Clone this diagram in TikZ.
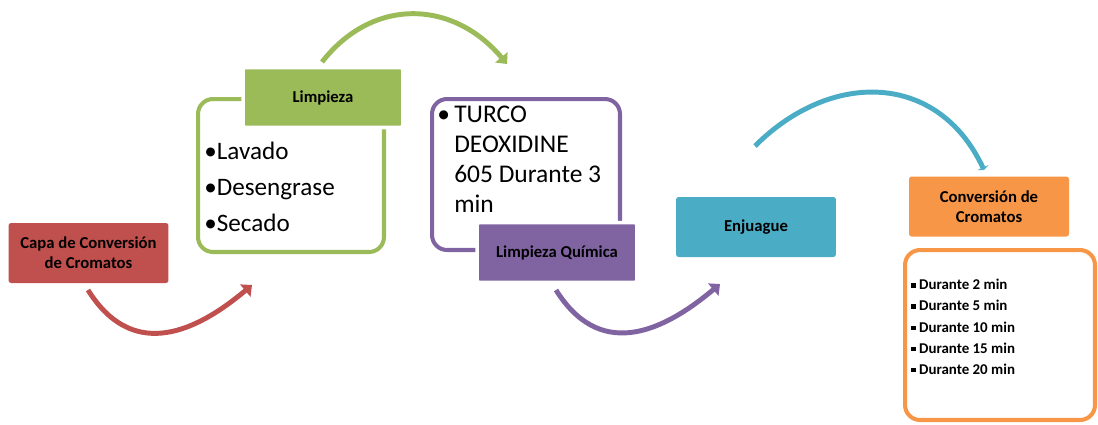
\documentclass[tikz,border=0pt]{standalone}
\usepackage{fontspec}
\setmainfont{Carlito}
\usetikzlibrary{positioning}
\usetikzlibrary{arrows.meta}
\definecolor{rojo}{HTML}{C0504D}
\definecolor{verde}{HTML}{9BBB59}
\definecolor{morado}{HTML}{8064A2}
\definecolor{azul}{HTML}{4BACC6}
\definecolor{naranja}{HTML}{F79646}
\tikzset{
  paso/.style={rounded corners=1.5pt, minimum width=3.2cm, minimum height=1.2cm, align=center, inner sep=2pt, font=\fontsize{9.5}{11.5}\selectfont\bfseries},
  marco/.style={draw, rounded corners=0.3cm, line width=2.3pt, inner sep=0pt},
  flecha/.style={line width=2.8pt, -{Triangle[length=5pt,width=9pt]}},
}

\begin{document}
\begin{tikzpicture}[x=0.02cm,y=-0.02cm]
\useasboundingbox (0,0) rectangle (1098,424);
% marcos
\node[marco, draw=verde, minimum width=3.72cm, minimum height=3.06cm] (mlimp) at (291,175.5) {};
\node[marco, draw=morado, minimum width=3.76cm, minimum height=3.02cm] (mquim) at (526,174.5) {};
\node[marco, draw=naranja, minimum width=3.8cm, minimum height=3.4cm] (mconv) at (1000,335) {};
% pasos
\node[paso, fill=rojo] (capa) at (88.5,253) {Capa de Conversión\\de Cromatos};
\node[paso, fill=verde, draw=white, line width=2pt] (limp) at (323,97.5) {Limpieza};
\node[paso, fill=morado, draw=white, line width=2pt] (quim) at (557,252.5) {Limpieza Química};
\node[paso, fill=azul] (enj) at (756,227) {Enjuague};
\node[paso, fill=naranja] (conv) at (989,206.5) {Conversión de\\Cromatos};
% textos
\node[anchor=north west, align=left, inner sep=0pt, font=\fontsize{14.3}{20.5}\selectfont] (tlimp) at (204,142) {•Lavado\\•Desengrase\\•Secado};
\node[anchor=north west, align=left, inner sep=0pt, font=\fontsize{14.5}{17}\selectfont] (tquim) at (437,106) {•\,TURCO\\\phantom{•\,}DEOXIDINE\\\phantom{•\,}605 Durante 3\\\phantom{•\,}min};
\node[anchor=north west, align=left, inner sep=0pt, font=\fontsize{8.5}{12}\selectfont\bfseries] (tconv) at (911,279) {\rule[1.2pt]{2.5pt}{2.5pt}\ Durante 2 min\\\rule[1.2pt]{2.5pt}{2.5pt}\ Durante 5 min\\\rule[1.2pt]{2.5pt}{2.5pt}\ Durante 10 min\\\rule[1.2pt]{2.5pt}{2.5pt}\ Durante 15 min\\\rule[1.2pt]{2.5pt}{2.5pt}\ Durante 20 min};
% flechas
\coordinate (r1) at (88,290);
\coordinate (r2) at (252,285);
\coordinate (v1) at (322,62);
\coordinate (v2) at (507,64);
\coordinate (m1) at (556,290);
\coordinate (m2) at (720,284);
\coordinate (a1) at (755,146);
\coordinate (a2) at (984,170);
\draw[flecha, rojo] (r1) to[out=-58, in=-140, looseness=1.25] (r2);
\draw[flecha, verde] (v1) to[out=52, in=130, looseness=1.15] (v2);
\draw[flecha, morado] (m1) to[out=-58, in=-140, looseness=1.25] (m2);
\draw[line width=2.8pt, azul, -{Triangle[length=1.5pt,width=7pt]}] (a1) to[out=45, in=115, looseness=1.2] (a2);
\end{tikzpicture}
\end{document}
